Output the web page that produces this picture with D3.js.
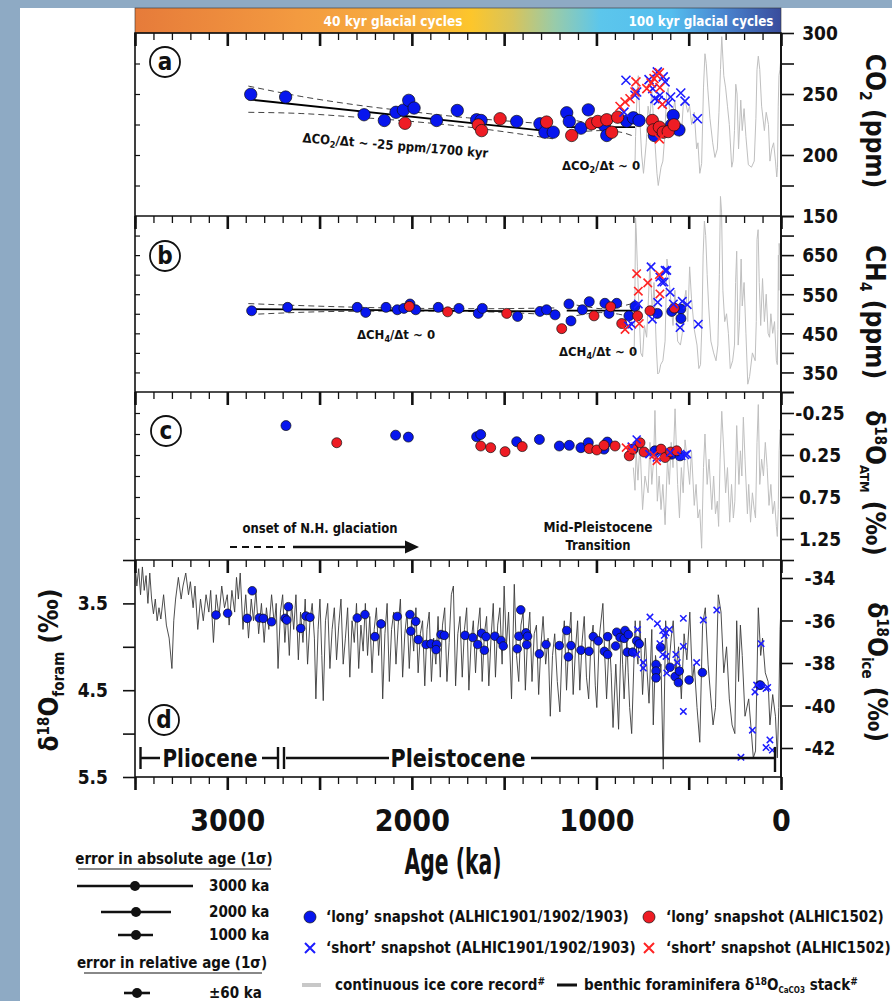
<!DOCTYPE html>
<html><head><meta charset="utf-8">
<script src="https://cdn.jsdelivr.net/npm/d3@7"></script>
<style>
body{margin:0;background:#fff;}
svg{display:block;}
text{font-family:"Liberation Sans Narrow","DejaVu Sans Condensed","Roboto",sans-serif;font-weight:bold;fill:#111;}
</style></head><body>
<svg id="c" width="892" height="1001"></svg>
<script>
// ---------------- DATA ----------------
const majorAges=[3500,3000,2500,2000,1500,1000,500,0];
const xTickLabels=[3000,2000,1000,0];
const co2Ticks=[150,175,200,225,250,275,300], co2Labels=[150,200,250,300];
const ch4Ticks=[300,350,400,450,500,550,600,650,700,750], ch4Labels=[350,450,550,650];
const atmTicks=[-0.5,-0.25,0,0.25,0.5,0.75,1,1.25,1.5], atmLabels=[-0.25,0.25,0.75,1.25];
const foramTicks=[3,3.5,4,4.5,5,5.5], foramLabels=[3.5,4.5,5.5];
const iceTicks=[-34,-36,-38,-40,-42];

// panel a: CO2 (ppm)  [age ka, value]
const co2LongA=[[2873,249.7],[2684,247.5],[2259,233],[2149,228.3],[2086,235],[2046,236.8],[2017,244.8],[1988,238.5],[1866,228.3],[1754,236.5],[1649,228.9],[1625,228.3],[1432,227.5],[1306,225.6],[1279,218.7],[1234,218.7],[1161,234.6],[1147,227.5],[1084,222],[1044,237],[957,224.2],[944,216],[836,227.7],[800,230.5],[769,228.3],[686,216],[592,224.7],[584,232.4],[553,220.6]];
const co2LongB=[[2037,226],[1640,224.7],[1622,220],[1522,229.7],[1270,227],[1134,216],[1026,225.6],[993,227.5],[944,228.9],[917,218.7],[885,231],[697,228.3],[692,220.6],[659,222.8],[638,218.7],[611,219.2],[580,224.7]];
const co2ShortA=[[851,235.1],[840,261.3],[791,249],[782,251.6],[715,261.8],[695,254.4],[683,246.2],[670,268.1],[665,244.8],[656,249],[638,264],[628,259.9],[611,242.6],[598,247.5],[543,250.8],[520,244.2],[453,229.7]];
const co2ShortB=[[872,239.8],[845,243.4],[818,246.1],[791,251.6],[786,259.9],[727,254.4],[704,259],[688,262.6],[673,265.4],[659,267.3],[656,255.2],[643,241.5],[659,213.2]];
const co2Record=[[0,280],[6,270],[11,265],[15,240],[19,190],[23,182],[30,195],[40,210],[50,205],[60,195],[68,225],[80,235],[90,220],[105,240],[115,270],[123,281],[130,270],[136,230],[145,195],[160,190],[177,192],[190,215],[200,238],[210,220],[218,245],[230,205],[238,250],[245,258],[252,220],[260,195],[267,190],[280,225],[290,240],[300,255],[310,265],[321,297],[328,270],[336,235],[345,205],[358,198],[370,210],[385,230],[397,255],[405,275],[412,283],[420,255],[430,193],[440,185],[450,210],[457,205],[470,235],[484,225],[495,240],[505,235],[520,245],[530,240],[538,220],[550,215],[565,225],[575,245],[585,235],[600,225],[611,255],[620,250],[630,215],[640,195],[650,190],[665,175],[672,185],[685,215],[700,253],[710,230],[720,240],[730,210],[745,185],[755,200],[765,230],[773,265],[780,250],[788,215],[791,193],[800,190]];
const co2Fit1=[[2886,245.6],[1224,218.9]];
const co2Band1=[[2886,235,256.5],[2600,234,248],[2300,231,241],[2000,227.5,235.5],[1700,223,230.5],[1450,218,227.5],[1224,213,225]];
const co2Fit2=[[1161,222.8],[791,222.8]];
const co2Band2=[[1161,216,230],[1050,219.5,226.5],[976,220,225.5],[880,219,227],[791,215,231]];

// panel b: CH4 (ppb)
const ch4LongA=[[2868,507.7],[2673,516.4],[2296,516.4],[2250,503.5],[2140,516.4],[2079,510.3],[2043,513.8],[2010,525],[1979,510.3],[1857,516.4],[1745,513.8],[1640,501],[1618,513.8],[1427,493.2],[1306,506],[1270,510.3],[1224,497.3],[1149,525],[1138,481.8],[1076,510.3],[1039,531],[954,526.8],[932,501],[890,526.8],[824,494.7],[791,519],[670,501],[592,506],[543,512],[542,488]];
const ch4LongB=[[2014,519],[1806,505],[1486,501],[1188,462],[1013,494.7],[923,518],[863,475],[777,494.7],[710,507.7],[578,514.6]];
const ch4ShortA=[[827,468.9],[809,473.3],[773,525],[704,619.9],[697,486.2],[668,529.4],[656,594],[646,581],[628,611],[634,581],[619,611],[601,555.2],[583,525],[547,464.7],[535,532],[508,523.3],[448,473.3]];
const ch4ShortB=[[845,460],[782,602.6],[773,557.8],[768,475],[722,579],[659,600],[656,550.8]];
const ch4Record=[[0,700],[5,650],[10,680],[12,560],[14,650],[17,460],[20,370],[25,380],[35,480],[45,450],[55,500],[62,440],[70,450],[80,550],[90,480],[100,590],[110,470],[118,580],[124,715],[130,690],[134,480],[140,380],[155,400],[170,340],[180,320],[190,450],[200,580],[210,520],[216,640],[225,480],[232,420],[240,660],[246,580],[252,420],[262,380],[275,360],[285,450],[295,500],[305,480],[315,560],[322,760],[328,800],[334,600],[342,420],[352,380],[365,400],[380,430],[392,520],[400,600],[408,700],[415,737],[422,650],[428,480],[436,370],[445,360],[455,420],[470,460],[485,540],[495,620],[505,480],[515,560],[525,530],[535,450],[545,420],[560,430],[575,560],[585,470],[595,520],[608,600],[618,640],[628,430],[640,380],[652,370],[660,350],[668,346],[676,420],[688,580],[697,500],[710,630],[718,540],[728,440],[740,470],[750,390],[760,400],[770,520],[778,620],[785,720],[788,745],[792,520],[795,420],[800,400]];
const ch4Fit1=[[2886,512],[1224,506]];
const ch4Band1=[[2886,498,526],[2400,506,518],[2000,507,514],[1600,505,513],[1224,497,515]];
const ch4Fit2=[[1161,508],[791,508]];
const ch4Band2=[[1161,490,526],[1050,500,518],[976,503,513],[880,499,518],[791,488,528]];

// panel c: d18O atm (permil)
const atmLongA=[[2682,-0.1],[2088,0.014],[2019,0.037],[1649,0.033],[1627,0.006],[1432,0.092],[1309,0.065],[1201,0.143],[1147,0.135],[1084,0.163],[1044,0.104],[959,0.18],[941,0.096],[800,0.18],[683,0.2],[592,0.24],[547,0.26]];
const atmLongB=[[2407,0.104],[1627,0.143],[1573,0.163],[1495,0.21],[1402,0.15],[1039,0.174],[998,0.19],[959,0.135],[899,0.143],[822,0.26],[804,0.18],[764,0.104],[742,0.214],[650,0.18],[628,0.28],[598,0.214],[565,0.2]];
const atmShortA=[[809,0.15],[782,0.065],[713,0.24],[673,0.28],[600,0.22],[540,0.26],[520,0.25],[510,0.24]];
const atmShortB=[[840,0.162],[809,0.19],[690,0.25],[673,0.32]];
const atmRecord=[[0,0.0],[5,-0.05],[10,0.2],[15,0.9],[20,1.22],[25,1.1],[35,0.8],[45,0.95],[55,0.6],[65,0.85],[75,0.4],[85,0.1],[95,0.5],[105,0.3],[115,0.6],[123,-0.35],[130,0.1],[138,1.0],[145,0.9],[155,0.7],[165,1.05],[175,0.6],[182,0.95],[195,0.3],[204,-0.2],[212,0.5],[220,0.2],[228,0.6],[240,-0.1],[250,0.8],[258,1.0],[268,0.6],[278,1.05],[290,0.4],[300,0.7],[310,0.2],[321,-0.27],[330,0.3],[338,1.1],[345,0.8],[355,0.95],[365,0.5],[375,0.9],[390,0.3],[400,0.6],[412,0.0],[420,0.4],[430,1.36],[440,0.9],[450,1.0],[460,0.6],[470,0.85],[485,0.2],[495,0.6],[508,0.3],[520,0.07],[530,0.7],[540,0.4],[550,1.0],[560,0.6],[574,-0.3],[585,0.4],[595,0.1],[605,0.6],[615,0.3],[628,1.08],[640,0.6],[650,0.9],[660,0.5],[670,0.8],[683,-0.28],[690,0.3],[700,0.6],[710,0.1],[720,0.7],[737,0.5],[750,0.9],[764,0.1],[775,0.55],[785,0.2],[791,0.67],[800,0.4]];

// panel d: benthic d18O (left axis) and ice d18O (right axis)
const benthic=[[3500,3.05],[3490,3.30],[3480,3.10],[3470,3.40],[3460,3.08],[3450,3.35],[3440,3.18],[3430,3.50],[3420,3.15],[3410,3.45],[3400,3.62],[3390,3.45],[3380,3.70],[3370,3.55],[3360,3.68],[3345,3.40],[3330,3.75],[3315,3.90],[3300,4.25],[3290,3.70],[3280,3.45],[3265,3.20],[3250,3.45],[3240,3.30],[3225,3.15],[3210,3.40],[3200,3.25],[3185,3.55],[3175,3.30],[3160,3.80],[3145,3.45],[3130,3.70],[3115,3.40],[3100,3.60],[3090,3.35],[3075,3.95],[3060,3.40],[3045,3.65],[3030,3.30],[3015,3.55],[3000,3.40],
[2990,3.75],[2975,3.35],[2960,3.60],[2950,3.20],[2940,3.45],[2930,3.15],[2915,3.80],[2900,3.40],[2885,3.90],[2870,3.45],[2858,3.70],[2845,3.35],[2830,3.85],[2815,3.50],[2800,3.95],[2788,3.55],[2775,3.80],[2760,3.40],[2745,3.75],[2735,3.50],[2725,4.25],[2712,3.60],[2700,3.40],[2688,3.95],[2676,3.55],[2664,4.10],[2652,3.50],[2640,3.80],[2628,3.40],[2615,4.15],[2603,3.60],[2590,3.95],[2578,3.45],[2565,4.20],[2552,3.70],[2540,3.50],[2528,3.90],[2520,4.60],[2508,3.80],[2498,3.45],[2488,4.10],[2480,4.62],[2468,3.70],
[2456,3.50],[2444,4.25],[2432,3.80],[2420,3.55],[2408,4.15],[2396,3.75],[2384,3.45],[2372,4.20],[2360,3.90],[2348,3.55],[2336,4.35],[2324,3.70],[2312,3.95],[2300,3.50],[2288,4.25],[2276,3.75],[2264,4.05],[2252,3.50],[2240,4.10],[2228,3.65],[2216,4.30],[2204,3.80],[2192,3.55],[2180,4.10],[2168,3.70],[2158,4.60],[2146,3.85],[2134,3.50],[2122,4.40],[2110,3.80],[2098,3.60],[2086,4.20],[2074,3.75],[2062,3.45],[2050,4.35],[2038,3.85],[2026,3.60],[2014,4.25],[2002,3.70],
[1990,4.05],[1978,3.55],[1966,4.30],[1954,3.85],[1942,3.70],[1930,4.45],[1918,3.80],[1906,3.60],[1894,4.40],[1882,3.90],[1870,4.20],[1858,3.65],[1846,4.35],[1834,3.75],[1822,3.55],[1810,4.40],[1798,3.95],[1786,3.40],[1775,3.30],[1763,4.45],[1751,3.85],[1739,3.65],[1727,4.35],[1715,3.80],[1703,3.55],[1691,4.50],[1679,3.95],[1667,3.70],[1655,4.30],[1643,3.80],[1631,3.55],[1619,4.40],[1607,3.85],[1595,3.65],[1583,4.45],[1571,3.90],[1559,3.50],[1547,4.35],[1535,3.75],[1523,3.55],[1511,4.20],[1500,3.30],
[1488,4.00],[1476,3.60],[1460,4.60],[1452,3.90],[1445,3.28],[1433,4.10],[1421,4.40],[1409,3.75],[1397,3.60],[1385,4.50],[1373,3.90],[1361,3.60],[1349,4.40],[1337,3.85],[1325,3.75],[1313,4.55],[1301,4.00],[1289,3.65],[1275,4.20],[1262,3.90],[1250,4.80],[1238,4.10],[1226,3.85],[1212,4.40],[1198,4.75],[1186,4.00],[1174,3.70],[1162,4.50],[1150,3.95],[1138,3.60],[1126,4.55],[1114,4.05],[1102,3.70],[1090,4.50],[1078,3.95],[1066,3.65],[1054,4.35],[1042,4.60],[1030,3.95],[1018,3.75],[1006,4.45],[998,4.70],
[985,3.90],[965,3.50],[955,4.10],[945,4.60],[930,3.90],[920,4.30],[910,4.93],[895,4.20],[880,4.95],[865,3.80],[858,4.20],[850,4.60],[835,3.90],[828,4.30],[820,4.70],[809,5.00],[790,3.70],[782,4.05],[775,4.20],[764,3.70],[750,4.55],[742,4.20],[735,3.90],[725,4.30],[715,4.65],[700,3.80],[692,4.90],[680,4.10],[665,4.40],[650,4.20],[638,5.41],[625,3.70],[610,4.30],[595,3.90],[584,3.70],[570,4.30],[555,4.00],[540,4.60],[525,3.85],[510,4.15],[494,3.60],[480,4.40],[470,4.20],[455,4.70],[440,5.10],[425,3.75],[410,3.55],[395,4.20],[380,4.60],[368,4.90],[355,4.70],[340,3.40],[325,3.60],[310,4.30],[295,4.00],[280,4.60],[265,4.90],[250,5.00],[240,3.70],[230,4.40],[220,3.75],[210,4.10],[195,4.80],[175,4.60],[160,5.00],[150,5.28],[138,5.20],[123,3.55],[110,4.10],[100,3.90],[85,4.30],[70,4.40],[60,4.90],[45,4.55],[30,4.80],[20,5.28],[12,4.70],[5,3.80],[0,3.52]];
const iceLongA=[[3061,-35.74],[2998,-35.66],[2892,-35.9],[2865,-34.6],[2827,-35.88],[2805,-35.9],[2760,-36.06],[2687,-35.9],[2678,-35.98],[2669,-35.35],[2602,-36.37],[2574,-35.79],[2552,-35.85],[2296,-35.88],[2254,-35.72],[2200,-36.76],[2167,-36.16],[2079,-35.81],[2010,-35.72],[1979,-36.04],[2006,-36.5],[1965,-36.9],[1923,-37.13],[1896,-37.1],[1866,-37.13],[1869,-37.37],[1842,-36.66],[1824,-36.7],[1712,-36.7],[1670,-36.8],[1643,-37.13],[1622,-36.6],[1598,-36.76],[1607,-37.4],[1550,-36.74],[1517,-36.94],[1505,-37.2],[1410,-35.5],[1420,-36.74],[1429,-37.33],[1382,-36.58],[1373,-36.74],[1378,-37.14],[1309,-37.57],[1273,-37.13],[1201,-37.18],[1161,-36.47],[1152,-37.71],[1138,-37.18],[1084,-37.4],[1040,-37.45],[1017,-36.76],[990,-36.96],[957,-37.45],[939,-37.6],[939,-36.76],[896,-37.2],[890,-36.55],[872,-36.8],[849,-36.84],[845,-36.47],[827,-36.66],[833,-37.49],[804,-37.49],[782,-36.96],[768,-37.1],[677,-38.07],[677,-38.38],[677,-38.7],[652,-37.26],[601,-38.2],[574,-38.64],[551,-38.38],[556,-38.92],[498,-38.8],[426,-38.45],[117,-39.04],[111,-39.04]];
const iceShortA=[[777,-36.43],[782,-37.6],[746,-37.98],[746,-38.24],[710,-35.84],[670,-36.15],[641,-36.47],[632,-36.7],[623,-36.58],[605,-36.42],[656,-37.09],[641,-37.6],[623,-37.69],[619,-38.47],[570,-37.6],[562,-37.98],[529,-35.9],[529,-37.22],[529,-40.28],[457,-37.98],[421,-35.98],[348,-35.51],[217,-42.44],[155,-41.16],[141,-39.36],[132,-39.04],[108,-37.09],[81,-39.2],[72,-39.15],[81,-41.98],[60,-41.62],[47,-42.1]];

// ---------------- SCALES ----------------
const L=135,R=781;
const x=d3.scaleLinear().domain([3500,0]).range([L,R]);
const yA=d3.scaleLinear().domain([150,300]).range([216,33]);
const yB=d3.scaleLinear().domain([300,750]).range([392,216]);
const yC=d3.scaleLinear().domain([-0.5,1.5]).range([392,560]);
const yD=d3.scaleLinear().domain([3.0,5.5]).range([560,777]);
const yI=d3.scaleLinear().domain([-34,-42]).range([578,748]);

const BLUE="#0716ee", RED="#ee1c24", XBLUE="#1c1cff", XRED="#ff2424", GREY="#bfbfbf";
const svg=d3.select("#c");

// background strips
svg.append("rect").attr("x",0).attr("y",0).attr("width",892).attr("height",8).attr("fill","#8eaac4");
svg.append("rect").attr("x",0).attr("y",0).attr("width",20).attr("height",1001).attr("fill","#8eaac4");

// colour bar
const defs=svg.append("defs");
const gr=defs.append("linearGradient").attr("id","cyc").attr("x1","0").attr("x2","1").attr("y1","0").attr("y2","0");
[[0,"#e67b3a"],[0.25,"#f39a40"],[0.45,"#f8b23f"],[0.52,"#fdc62b"],[0.585,"#d8c45b"],[0.65,"#98cbaa"],[0.72,"#5cc6ec"],[0.83,"#54bdee"],[0.91,"#4a86d0"],[1,"#394c9c"]]
 .forEach(s=>gr.append("stop").attr("offset",s[0]).attr("stop-color",s[1]));
svg.append("rect").attr("x",L).attr("y",8).attr("width",R-L).attr("height",25).attr("fill","url(#cyc)").attr("stroke","#333").attr("stroke-width",0.6);
svg.append("text").attr("x",393).attr("y",26).attr("text-anchor","middle").attr("font-size",14).attr("textLength",139).attr("lengthAdjust","spacingAndGlyphs").style("fill","#fff").text("40 kyr glacial cycles");
svg.append("text").attr("x",701).attr("y",26).attr("text-anchor","middle").attr("font-size",14).attr("textLength",145).attr("lengthAdjust","spacingAndGlyphs").style("fill","#fff").text("100 kyr glacial cycles");

// ---------------- helpers ----------------
const line=(ys)=>d3.line().x(d=>x(d[0])).y(d=>ys(d[1]));
function record(data,ys,color,w){svg.append("path").datum(data).attr("d",line(ys)).attr("fill","none").attr("stroke",color).attr("stroke-width",w).attr("stroke-linejoin","round");}
function dots(data,ys,color,r){svg.append("g").selectAll("circle").data(data).join("circle").attr("cx",d=>x(d[0])).attr("cy",d=>ys(d[1])).attr("r",r).attr("fill",color).attr("stroke","#111").attr("stroke-width",0.7);}
function crosses(data,ys,color,s,w){svg.append("g").selectAll("path").data(data).join("path")
  .attr("d",d=>{const cx=x(d[0]),cy=ys(d[1]);return `M${cx-s},${cy-s}L${cx+s},${cy+s}M${cx-s},${cy+s}L${cx+s},${cy-s}`;})
  .attr("stroke",color).attr("stroke-width",w).attr("fill","none");}
function fit(center,band,ys){
  svg.append("path").datum(band).attr("d",d3.line().x(d=>x(d[0])).y(d=>ys(d[1])).curve(d3.curveMonotoneX)).attr("fill","none").attr("stroke","#444").attr("stroke-width",1).attr("stroke-dasharray","6,4");
  svg.append("path").datum(band).attr("d",d3.line().x(d=>x(d[0])).y(d=>ys(d[2])).curve(d3.curveMonotoneX)).attr("fill","none").attr("stroke","#444").attr("stroke-width",1).attr("stroke-dasharray","6,4");
  svg.append("path").datum(center).attr("d",line(ys)).attr("fill","none").attr("stroke","#000").attr("stroke-width",1.8);
}
function topTicks(yPos){
  svg.append("g").attr("transform",`translate(0,${yPos})`).call(d3.axisBottom(x).tickValues(d3.range(0,3501,100)).tickSize(7).tickFormat(""))
    .call(g=>{g.select(".domain").remove();g.selectAll("line").attr("stroke","#111").attr("stroke-width",1.3);});
  svg.append("g").attr("transform",`translate(0,${yPos})`).call(d3.axisBottom(x).tickValues(majorAges).tickSize(13).tickFormat(""))
    .call(g=>{g.select(".domain").remove();g.selectAll("line").attr("stroke","#111").attr("stroke-width",2.6);});
}
function rightAxis(ys,ticks,labels,fmt,size){
  svg.append("g").attr("transform",`translate(${R},0)`).call(d3.axisRight(ys).tickValues(ticks).tickSize(size).tickFormat(d=>labels.includes(d)?fmt(d):""))
    .call(g=>{g.select(".domain").remove();g.selectAll("line").attr("stroke","#111").attr("stroke-width",1.6);
      g.selectAll("text").attr("x",39).attr("text-anchor","middle").attr("dy","0.36em").attr("font-size",19).attr("font-family",null).style("fill","#111");});
}
function leftInner(ys,ticks){
  svg.append("g").attr("transform",`translate(${L},0)`).call(d3.axisRight(ys).tickValues(ticks).tickSize(5).tickFormat(""))
    .call(g=>{g.select(".domain").remove();g.selectAll("line").attr("stroke","#111").attr("stroke-width",1.2);});
}
function circLabel(cx,cy,t){
  svg.append("circle").attr("cx",cx).attr("cy",cy).attr("r",15).attr("fill","#fff").attr("stroke","#111").attr("stroke-width",1.8);
  svg.append("text").attr("x",cx).attr("y",cy+8).attr("text-anchor","middle").attr("font-size",24).text(t);
}

// ---------------- marks ----------------
record(co2Record,yA,GREY,1);
record(ch4Record,yB,GREY,1);
record(atmRecord,yC,GREY,1);
record(benthic,yD,"#3a3a3a",0.9);

fit(co2Fit1,co2Band1,yA); fit(co2Fit2,co2Band2,yA);
fit(ch4Fit1,ch4Band1,yB); fit(ch4Fit2,ch4Band2,yB);

dots(co2LongA,yA,BLUE,6.2); dots(co2LongB,yA,RED,6.2);
crosses(co2ShortA,yA,XBLUE,4.5,1.6); crosses(co2ShortB,yA,XRED,4.5,1.6);
dots(ch4LongA,yB,BLUE,5); dots(ch4LongB,yB,RED,5);
crosses(ch4ShortA,yB,XBLUE,4.2,1.6); crosses(ch4ShortB,yB,XRED,4.2,1.6);
dots(atmLongA,yC,BLUE,5); dots(atmLongB,yC,RED,5);
crosses(atmShortA,yC,XBLUE,4,1.6); crosses(atmShortB,yC,XRED,4,1.6);
dots(iceLongA,yI,BLUE,4.3);
crosses(iceShortA,yI,XBLUE,3.2,1.5);

// frames
svg.append("rect").attr("x",L).attr("y",33).attr("width",R-L).attr("height",777-33).attr("fill","none").attr("stroke","#111").attr("stroke-width",1.6);
[216,392,560].forEach(yy=>svg.append("line").attr("x1",L).attr("x2",R).attr("y1",yy).attr("y2",yy).attr("stroke","#111").attr("stroke-width",1.6));

[33,216,392,560].forEach(topTicks);
svg.append("g").attr("transform","translate(0,777)").call(d3.axisBottom(x).tickValues(d3.range(0,3501,100)).tickSize(7).tickFormat(""))
  .call(g=>{g.select(".domain").remove();g.selectAll("line").attr("stroke","#111").attr("stroke-width",1.3);});
svg.append("g").attr("transform","translate(0,777)").call(d3.axisBottom(x).tickValues(majorAges).tickSize(13).tickPadding(20).tickFormat(d=>xTickLabels.includes(d)?d:""))
  .call(g=>{g.select(".domain").remove();g.selectAll("line").attr("stroke","#111").attr("stroke-width",2.6);
    g.selectAll("text").attr("font-size",30).attr("font-family",null).style("fill","#111");});

rightAxis(yA,co2Ticks,co2Labels,d=>d,13);
rightAxis(yB,ch4Ticks,ch4Labels,d=>d,13);
rightAxis(yC,atmTicks,atmLabels,d=>d3.format(".2f")(d).replace("−","-"),13);
rightAxis(yI,iceTicks,iceTicks,d=>String(d),12);
leftInner(yA,[175,200,225,250,275]);
leftInner(yB,[350,400,450,500,550,600,650,700]);
leftInner(yC,[-0.25,0,0.25,0.5,0.75,1,1.25]);
svg.append("g").attr("transform",`translate(${L},0)`).call(d3.axisLeft(yD).tickValues(foramTicks).tickSize(12).tickPadding(15).tickFormat(d=>foramLabels.includes(d)?d.toFixed(1):""))
  .call(g=>{g.select(".domain").remove();g.selectAll("line").attr("stroke","#111").attr("stroke-width",1.6);
    g.selectAll("text").attr("font-size",19).attr("font-family",null).style("fill","#111");});
svg.append("line").attr("x1",R).attr("x2",R).attr("y1",33).attr("y2",777).attr("stroke","#111").attr("stroke-width",1.8);

circLabel(165,62,"a"); circLabel(165,256,"b"); circLabel(166,431,"c"); circLabel(164,720,"d");

// annotations
function sub(t,parts){parts.forEach(p=>{const ts=t.append("tspan").text(p[0]);if(p[1]){ts.attr("font-size",p[1]).attr("dy",p[2]);}else if(p[2])ts.attr("dy",p[2]);});}
let t=svg.append("text").attr("transform","translate(395,150) rotate(4.8)").attr("text-anchor","middle").attr("font-size",13);
sub(t,[["ΔCO"],["2",9,3],["/Δt ~ -25 ppm/1700 kyr",null,-3]]);
t=svg.append("text").attr("x",601).attr("y",170).attr("text-anchor","middle").attr("font-size",13);
sub(t,[["ΔCO"],["2",9,3],["/Δt ~ 0",null,-3]]);
t=svg.append("text").attr("x",396).attr("y",339).attr("text-anchor","middle").attr("font-size",13);
sub(t,[["ΔCH"],["4",9,3],["/Δt ~ 0",null,-3]]);
t=svg.append("text").attr("x",598).attr("y",356).attr("text-anchor","middle").attr("font-size",13);
sub(t,[["ΔCH"],["4",9,3],["/Δt ~ 0",null,-3]]);
svg.append("text").attr("x",320).attr("y",533).attr("text-anchor","middle").attr("font-size",14).attr("textLength",155).attr("lengthAdjust","spacingAndGlyphs").text("onset of N.H. glaciation");
svg.append("line").attr("x1",230).attr("x2",288).attr("y1",547).attr("y2",547).attr("stroke","#111").attr("stroke-width",2.2).attr("stroke-dasharray","7,5");
svg.append("line").attr("x1",293).attr("x2",406).attr("y1",547).attr("y2",547).attr("stroke","#111").attr("stroke-width",2.6);
svg.append("path").attr("d","M405,540.5L419,547L405,553.5Z").attr("fill","#111");
svg.append("text").attr("x",598).attr("y",532).attr("text-anchor","middle").attr("font-size",14).attr("textLength",109).attr("lengthAdjust","spacingAndGlyphs").text("Mid-Pleistocene");
svg.append("text").attr("x",598).attr("y",550).attr("text-anchor","middle").attr("font-size",14).attr("textLength",65).attr("lengthAdjust","spacingAndGlyphs").text("Transition");

// epoch bracket
const bk=svg.append("g").attr("stroke","#111").attr("stroke-width",2.4).attr("fill","none");
bk.append("path").attr("d","M140.5,747V769M140.5,758H160M262,758H278M278,747V769M284,747V769M286,758H389M531,758H775M775,747V772");
svg.append("text").attr("x",210).attr("y",767).attr("text-anchor","middle").attr("font-size",25).attr("textLength",95).attr("lengthAdjust","spacingAndGlyphs").text("Pliocene");
svg.append("text").attr("x",458).attr("y",767).attr("text-anchor","middle").attr("font-size",25).attr("textLength",135).attr("lengthAdjust","spacingAndGlyphs").text("Pleistocene");

// axis titles
function rotTitle(tx,ty,ang,parts,fs){const tt=svg.append("text").attr("transform",`translate(${tx},${ty}) rotate(${ang})`).attr("text-anchor","middle").attr("font-size",fs);sub(tt,parts);}
rotTitle(866,121,90,[["CO"],["2",16,6],[" (ppm)",null,-6]],26);
rotTitle(866,312,90,[["CH"],["4",16,6],[" (ppm)",null,-6]],26);
rotTitle(866,483,90,[["δ"],["18",15,-9],["O",null,9],["ATM",13,6],[" (‰)",null,-6]],26);
rotTitle(868,672,90,[["δ"],["18",15,-9],["O",null,9],["ice",15,6],[" (‰)",null,-6]],26);
rotTitle(58,670,-90,[["δ"],["18",15,-9],["O",null,9],["foram",15,6],[" (‰)",null,-6]],26);

svg.append("text").attr("x",453).attr("y",874).attr("text-anchor","middle").attr("font-size",35).attr("textLength",97).attr("lengthAdjust","spacingAndGlyphs").text("Age (ka)");

// left legend (age errors)
const lg=svg.append("g");
lg.append("text").attr("x",174).attr("y",864).attr("text-anchor","middle").attr("font-size",15).text("error in absolute age (1σ)");
lg.append("line").attr("x1",78).attr("x2",271).attr("y1",869).attr("y2",869).attr("stroke","#888").attr("stroke-width",2);
[[77,193,886,135,"3000 ka"],[101,171,912,136,"2000 ka"],[118,153,935,136,"1000 ka"]].forEach(r=>{
  lg.append("line").attr("x1",r[0]).attr("x2",r[1]).attr("y1",r[2]).attr("y2",r[2]).attr("stroke","#111").attr("stroke-width",2.6);
  lg.append("circle").attr("cx",r[3]).attr("cy",r[2]).attr("r",5).attr("fill","#111");
  lg.append("text").attr("x",209).attr("y",r[2]+5).attr("font-size",15).text(r[4]);
});
lg.append("text").attr("x",172).attr("y",968).attr("text-anchor","middle").attr("font-size",15).text("error in relative age (1σ)");
lg.append("line").attr("x1",84).attr("x2",262).attr("y1",973).attr("y2",973).attr("stroke","#888").attr("stroke-width",2);
lg.append("line").attr("x1",124).attr("x2",150).attr("y1",993).attr("y2",993).attr("stroke","#111").attr("stroke-width",2.6);
lg.append("circle").attr("cx",137).attr("cy",993).attr("r",5).attr("fill","#111");
lg.append("text").attr("x",209).attr("y",998).attr("font-size",15).text("±60 ka");

// series legend
const sl=svg.append("g");
sl.append("circle").attr("cx",310).attr("cy",917).attr("r",6).attr("fill",BLUE).attr("stroke","#111").attr("stroke-width",0.7);
sl.append("text").attr("x",326).attr("y",922).attr("font-size",15).text("‘long’ snapshot (ALHIC1901/1902/1903)");
sl.append("circle").attr("cx",649).attr("cy",917).attr("r",6).attr("fill",RED).attr("stroke","#111").attr("stroke-width",0.7);
sl.append("text").attr("x",666).attr("y",922).attr("font-size",15).text("‘long’ snapshot (ALHIC1502)");
sl.append("path").attr("d","M305,943L315,953M305,953L315,943").attr("stroke",XBLUE).attr("stroke-width",2);
sl.append("text").attr("x",326).attr("y",953).attr("font-size",15).text("‘short’ snapshot (ALHIC1901/1902/1903)");
sl.append("path").attr("d","M644,943L654,953M644,953L654,943").attr("stroke",XRED).attr("stroke-width",2);
sl.append("text").attr("x",666).attr("y",953).attr("font-size",15).text("‘short’ snapshot (ALHIC1502)");
sl.append("line").attr("x1",302).attr("x2",321).attr("y1",985).attr("y2",985).attr("stroke","#c8c8c8").attr("stroke-width",4);
t=sl.append("text").attr("x",335).attr("y",990).attr("font-size",15);
sub(t,[["continuous ice core record"],["#",10,-5]]);
sl.append("line").attr("x1",557).attr("x2",577).attr("y1",985).attr("y2",985).attr("stroke","#111").attr("stroke-width",3);
t=sl.append("text").attr("x",584).attr("y",990).attr("font-size",15);
sub(t,[["benthic foraminifera δ"],["18",10,-5],["O",null,5],["CaCO3",8,3],[" stack",null,-3],["#",10,-5]]);
</script></body></html>
